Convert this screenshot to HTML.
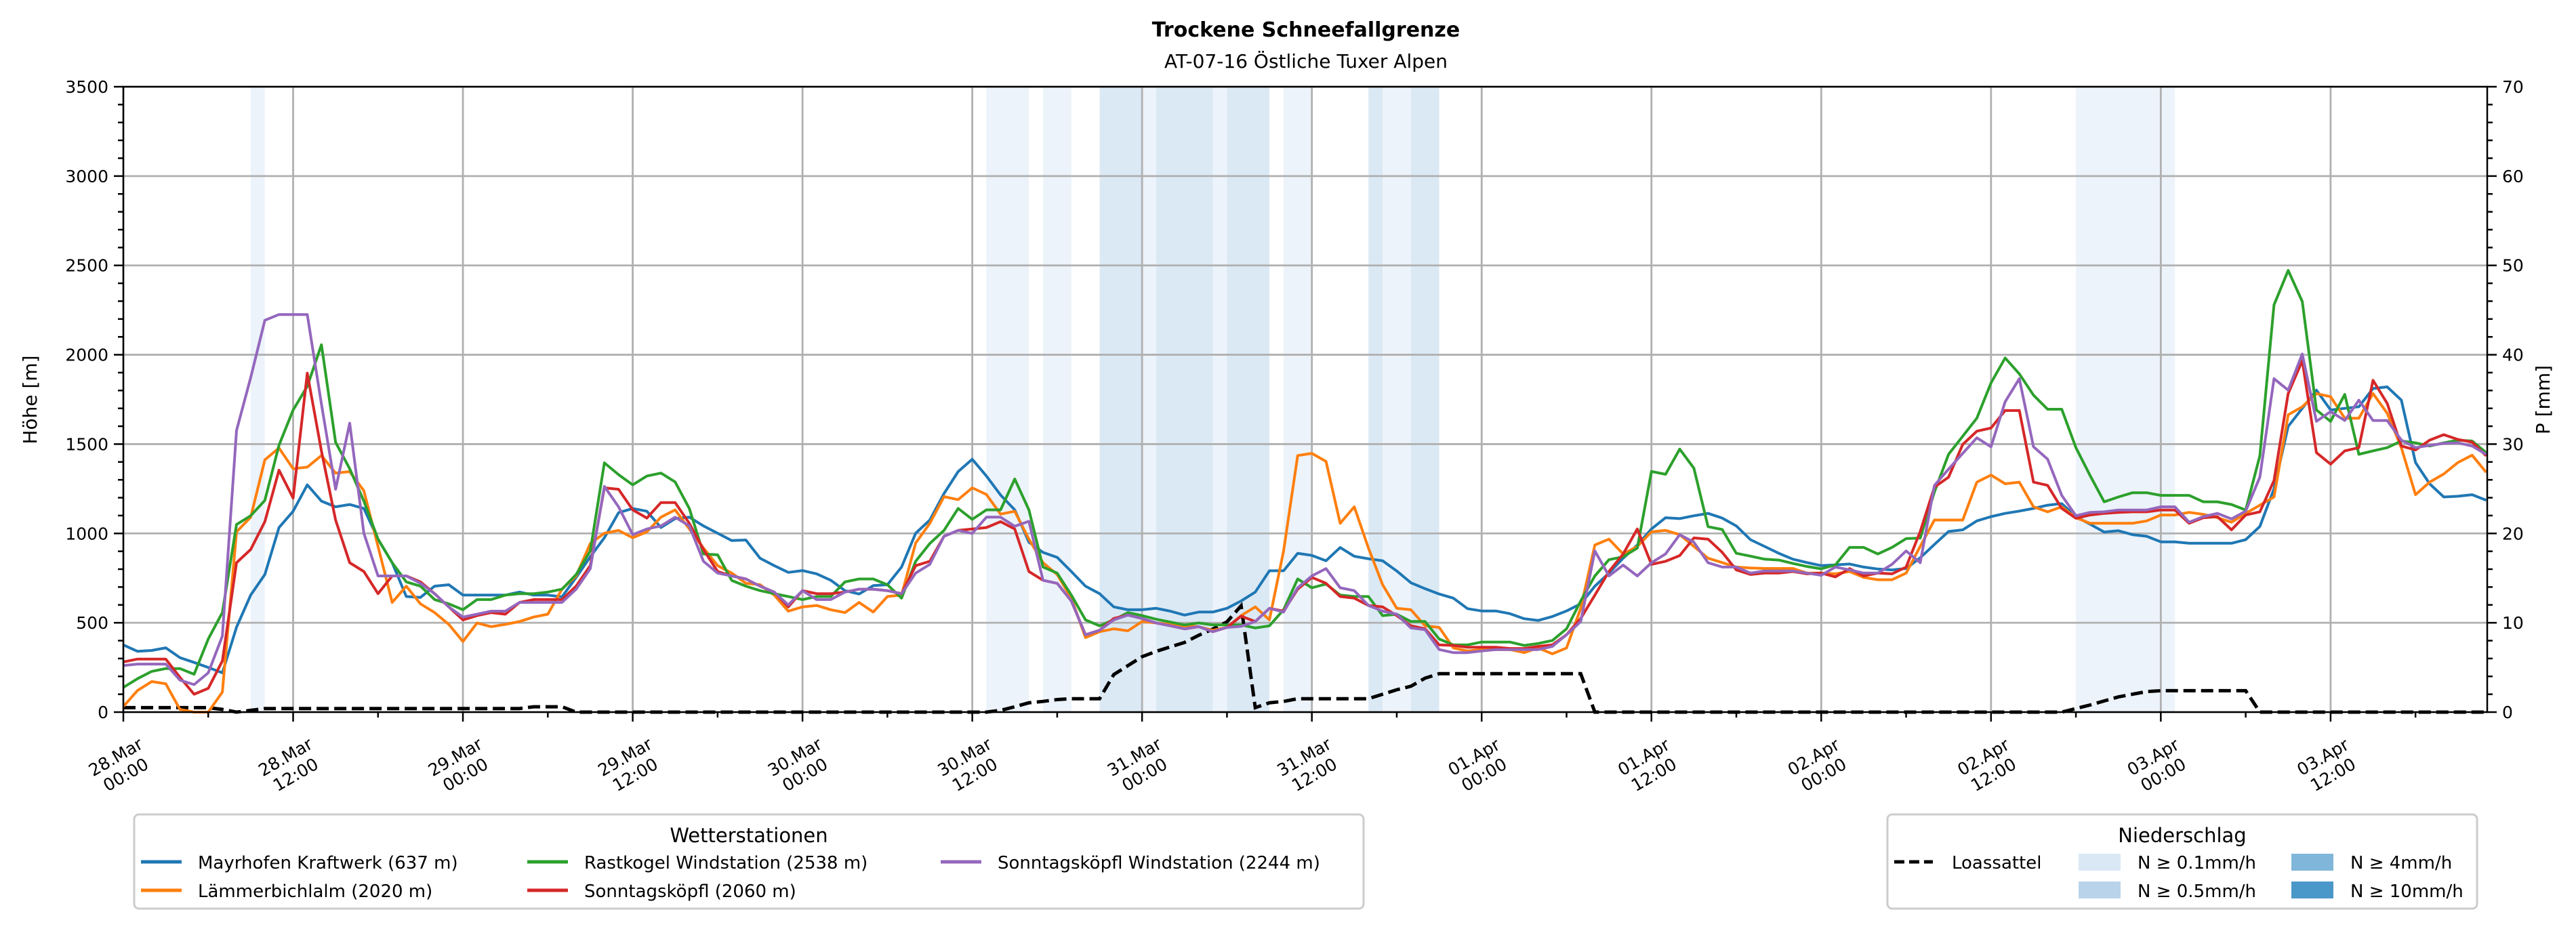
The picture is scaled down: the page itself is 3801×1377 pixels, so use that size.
<!DOCTYPE html>
<html><head><meta charset="utf-8"><style>
html,body{margin:0;padding:0;background:#fff}
svg{display:block;font-family:"DejaVu Sans","Liberation Sans",sans-serif}
</style></head><body>
<svg id="chart" width="3801" height="1377" viewBox="0 0 3801 1377" xmlns="http://www.w3.org/2000/svg">
<rect width="3801" height="1377" fill="#fff"/>
<text x="1927" y="54" font-size="30" font-weight="bold" text-anchor="middle">Trockene Schneefallgrenze</text>
<text x="1927" y="100" font-size="28" text-anchor="middle">AT-07-16 Östliche Tuxer Alpen</text>
<g id="bands"></g>
<g id="grid"></g>
<g id="series"></g>
<g id="axes"></g>
<text transform="translate(54,590) rotate(-90)" font-size="28" text-anchor="middle">Höhe [m]</text>
<text transform="translate(3762,590) rotate(-90)" font-size="28" text-anchor="middle">P [mm]</text>

<g>
<rect x="198" y="1202" width="1814" height="139" rx="7" fill="#fff" stroke="#cccccc" stroke-width="3"/>
<text x="1105" y="1243" font-size="29" text-anchor="middle">Wetterstationen</text>
<g><line x1="208" y1="1272" x2="268" y2="1272" stroke="#1f77b4" stroke-width="5"/><text x="292" y="1282" font-size="26">Mayrhofen Kraftwerk (637 m)</text></g>
<g><line x1="208" y1="1314" x2="268" y2="1314" stroke="#ff7f0e" stroke-width="5"/><text x="292" y="1324" font-size="26">Lämmerbichlalm (2020 m)</text></g>
<g><line x1="778" y1="1272" x2="838" y2="1272" stroke="#2ca02c" stroke-width="5"/><text x="862" y="1282" font-size="26">Rastkogel Windstation (2538 m)</text></g>
<g><line x1="778" y1="1314" x2="838" y2="1314" stroke="#d62728" stroke-width="5"/><text x="862" y="1324" font-size="26">Sonntagsköpfl (2060 m)</text></g>
<g><line x1="1388" y1="1272" x2="1448" y2="1272" stroke="#9467bd" stroke-width="5"/><text x="1472" y="1282" font-size="26">Sonntagsköpfl Windstation (2244 m)</text></g>
</g>

<g>
<rect x="2785" y="1202" width="870" height="139" rx="7" fill="#fff" stroke="#cccccc" stroke-width="3"/>
<text x="3220" y="1243" font-size="29" text-anchor="middle">Niederschlag</text>
<g><line x1="2795" y1="1272" x2="2852" y2="1272" stroke="#000" stroke-width="5" stroke-dasharray="15,7"/><text x="2880" y="1282" font-size="26">Loassattel</text></g>
<g><rect x="3067" y="1260" width="62" height="25" fill="#dae8f5"/><text x="3154" y="1282" font-size="26">N ≥ 0.1mm/h</text></g>
<g><rect x="3067" y="1301" width="62" height="25" fill="#b9d4ea"/><text x="3154" y="1324" font-size="26">N ≥ 0.5mm/h</text></g>
<g><rect x="3381" y="1260" width="62" height="25" fill="#7fb6d9"/><text x="3468" y="1282" font-size="26">N ≥ 4mm/h</text></g>
<g><rect x="3381" y="1301" width="62" height="25" fill="#4a97c9"/><text x="3468" y="1324" font-size="26">N ≥ 10mm/h</text></g>
</g>
</svg>
<script>
const mayrhofen=[376,340,345,360,305,278,250,220,475,655,770,1033,1124,1272,1181,1149,1162,1140,968,836,647,642,705,713,655,655,655,655,672,655,655,645,754,869,976,1116,1140,1124,1033,1083,1091,1042,1001,
960,963,861,820,782,792,774,738,680,661,708,713,812,1001,1075,1223,1346,1415,1321,1215,1132,951,894,866,787,705,663,589,573,573,581,565,543,560,560,581,622,672,791,791,889,877,
847,921,872,858,847,790,724,691,661,638,579,566,566,551,523,513,535,566,606,705,778,861,935,1025,1088,1083,1099,1112,1086,1042,965,927,889,856,837,820,824,829,812,801,796,804,
864,938,1011,1020,1070,1094,1112,1125,1140,1158,1167,1094,1052,1008,1015,993,984,953,953,945,945,945,945,965,1039,1250,1599,1700,1802,1691,1700,1709,1811,1820,1746,1397,1278,1204,1208,1217,1186];
const rastkogel=[138,187,228,244,244,212,409,557,1050,1099,1185,1494,1691,1823,2056,1510,1362,1181,968,836,729,705,630,606,573,630,630,655,663,663,672,688,770,902,1395,1329,1272,1321,1338,1288,1140,885,880,
737,705,680,663,647,630,647,647,729,745,745,713,638,844,944,1017,1140,1079,1132,1132,1305,1132,812,778,655,516,483,516,557,540,520,504,488,499,488,488,488,471,483,573,745,696,
717,655,647,647,540,548,507,507,409,376,376,392,392,392,373,384,401,466,622,762,853,869,918,1347,1331,1472,1365,1038,1022,889,873,856,851,832,815,802,824,922,922,885,922,971,
974,1232,1443,1544,1645,1842,1982,1893,1774,1695,1695,1480,1324,1177,1204,1228,1228,1213,1213,1213,1177,1177,1162,1131,1434,2279,2472,2298,1691,1627,1778,1443,1462,1480,1517,1507,1489,1507,1522,1517,1452];
const sonntag=[281,297,297,297,195,100,133,286,836,910,1066,1354,1198,1897,1461,1075,836,787,663,762,762,729,663,589,516,540,557,548,614,630,630,630,705,820,1255,1247,1132,1086,1173,1173,1057,910,787,
762,745,705,672,589,680,663,663,672,688,688,680,663,820,844,984,1017,1025,1033,1066,1025,787,738,721,622,433,458,524,543,524,499,483,466,478,450,474,537,507,581,565,688,754,
721,647,638,597,589,540,483,466,376,373,363,363,363,356,356,368,376,433,524,655,787,885,1025,827,844,876,975,968,894,796,770,778,778,787,774,778,757,803,762,778,774,812,
1011,1259,1315,1498,1572,1590,1688,1688,1287,1269,1140,1085,1103,1112,1118,1121,1121,1131,1131,1057,1088,1094,1020,1103,1121,1296,1783,1967,1452,1388,1462,1480,1857,1728,1489,1467,1522,1553,1526,1511,1434];
const sonntagWind=[261,269,269,269,179,154,220,425,1576,1872,2193,2225,2225,2225,1724,1247,1617,1001,762,762,762,721,663,589,532,548,565,565,614,614,614,614,688,803,1263,1149,993,1025,1042,1091,1042,844,778,
762,745,705,672,600,680,630,630,672,688,688,680,663,778,827,984,1017,1000,1091,1091,1040,1068,738,721,622,433,458,516,543,524,499,483,466,478,450,474,480,507,581,560,696,762,
803,696,680,597,565,548,471,461,350,333,333,342,350,350,350,350,368,433,507,902,762,823,762,836,885,993,951,836,812,812,778,790,790,790,778,766,812,796,778,778,827,902,
836,1268,1360,1448,1535,1485,1737,1866,1485,1416,1213,1099,1118,1121,1131,1131,1131,1149,1149,1063,1094,1112,1081,1125,1315,1866,1802,2004,1627,1682,1632,1746,1632,1632,1522,1480,1493,1504,1507,1489,1443];
const laemmer=[31,121,171,159,15,0,0,112,1009,1091,1412,1478,1362,1371,1436,1338,1346,1239,927,614,705,606,557,491,395,499,478,491,507,532,548,688,762,944,1001,1017,976,1009,1091,1132,1025,918,820,
778,721,713,655,565,589,597,573,557,614,560,647,655,946,1057,1206,1189,1255,1218,1108,1124,968,836,770,638,417,450,466,455,507,499,491,483,478,458,474,540,589,516,902,1436,1448,
1403,1057,1149,918,713,581,573,483,474,359,342,350,350,350,333,359,326,359,581,935,968,885,927,1009,1017,993,927,861,837,812,807,804,804,804,778,778,774,787,754,741,741,778,
928,1075,1075,1075,1287,1327,1278,1287,1149,1121,1149,1088,1057,1057,1057,1057,1070,1103,1103,1118,1107,1088,1063,1112,1158,1204,1664,1709,1783,1765,1645,1645,1783,1673,1480,1217,1287,1333,1397,1438,1342];
const loassattel=[0.5,0.5,0.5,0.5,0.5,0.5,0.5,0.3,0,0.2,
0.4,0.4,0.4,0.4,0.4,0.4,0.4,0.4,0.4,0.4,0.4,0.4,0.4,0.4,0.4,0.4,0.4,0.4,0.4,
0.6,0.6,0.6,
0,0,0,0,0,0,0,0,0,0,0,0,0,0,0,0,0,0,0,0,0,0,0,0,0,0,0,0,0,0,
0.2,0.6,1.05,1.2,1.4,1.5,1.5,1.5,
4.2,5.2,6.2,6.8,7.3,7.8,8.6,9.3,10.1,11.9,
0.5,1.05,1.2,1.5,1.5,1.5,1.5,1.5,1.5,2.0,2.5,2.9,3.8,
4.3,4.3,4.3,4.3,4.3,4.3,4.3,4.3,4.3,4.3,4.3,
0,0,0,0,0,0,0,0,0,0,0,0,0,0,0,0,0,0,0,0,0,0,0,0,0,0,0,0,0,0,0,0,0,0,
0.4,0.8,1.25,1.7,2.0,2.3,2.4,2.4,2.4,2.4,2.4,2.4,2.4,
0,0,0,0,0,0,0,0,0,0,0,0,0,0,0,0,0];
const bandStart=[9,61,65,69,72,73,77,78,82,88,89,91,138];
const bandEnd=[10,64,67,72,73,77,78,81,84,89,91,93,145];
const bandLevel=[0.1,0.1,0.1,0.5,0.1,0.5,0.1,0.5,0.1,0.5,0.1,0.5,0.1];
const yTicks=[0,500,1000,1500,2000,2500,3000,3500];
const y2Ticks=[0,10,20,30,40,50,60,70];
const xTickHours=[0,12,24,36,48,60,72,84,96,108,120,132,144,156];
const xTickLabels=[["28.Mar","00:00"],["28.Mar","12:00"],["29.Mar","00:00"],["29.Mar","12:00"],["30.Mar","00:00"],["30.Mar","12:00"],["31.Mar","00:00"],["31.Mar","12:00"],["01.Apr","00:00"],["01.Apr","12:00"],["02.Apr","00:00"],["02.Apr","12:00"],["03.Apr","00:00"],["03.Apr","12:00"]];

const L=182,R=3670,T=128,B=1051,HMAX=167.07,YMAX=3500,PMAX=70;
const NS="http://www.w3.org/2000/svg";
function X(h){return L+(R-L)*h/HMAX;}
function Y(v){return B-(B-T)*v/YMAX;}
function Y2(p){return B-(B-T)*p/PMAX;}
function mk(tag,attrs,parent){const e=document.createElementNS(NS,tag);for(const k in attrs)e.setAttribute(k,attrs[k]);parent.appendChild(e);return e;}

const gB=document.getElementById('bands');
bandStart.forEach((s,i)=>{
  const r=mk('rect',{x:X(s),y:T,width:X(bandEnd[i])-X(s),height:B-T,fill:bandLevel[i]>=0.5?'#dbe9f5':'#ecf3fa'},gB);
  
  
});

const gG=document.getElementById('grid');
yTicks.forEach(v=>{const l=mk('line',{x1:L,x2:R,y1:Y(v),y2:Y(v),stroke:'#b0b0b0','stroke-width':2.8},gG);
  
  });
xTickHours.forEach(h=>{const l=mk('line',{x1:X(h),x2:X(h),y1:T,y2:B,stroke:'#b0b0b0','stroke-width':2.8},gG);
  
  });

const gS=document.getElementById('series');
function drawLine(arr,color,name){
  const pts=arr.map((v,i)=>X(i).toFixed(1)+','+Y(v).toFixed(1)).join(' ');
  const p=mk('polyline',{points:pts,fill:'none',stroke:color,'stroke-width':4,'stroke-linejoin':'round'},gS);
  
  
}
const pl=loassattel.map((v,i)=>X(i).toFixed(1)+','+Y2(v).toFixed(1)).join(' ');
const lo=mk('polyline',{points:pl,fill:'none',stroke:'#000','stroke-width':5,'stroke-dasharray':'18,8'},gS);


drawLine(mayrhofen,'#1f77b4','mayrhofen-line');
drawLine(laemmer,'#ff7f0e','laemmerbichlalm-line');
drawLine(rastkogel,'#2ca02c','rastkogel-line');
drawLine(sonntag,'#d62728','sonntagskoepfl-line');
drawLine(sonntagWind,'#9467bd','sonntagskoepfl-wind-line');

const gA=document.getElementById('axes');
mk('rect',{x:L,y:T,width:R-L,height:B-T,fill:'none',stroke:'#000','stroke-width':2.5},gA);
for(let v=0;v<=YMAX;v+=100){const maj=v%500===0;mk('line',{x1:L,x2:L-(maj?14:8),y1:Y(v),y2:Y(v),stroke:'#000','stroke-width':2.5},gA);}
yTicks.forEach(v=>{const t=mk('text',{x:L-22,y:Y(v)+9,'font-size':25,'text-anchor':'end'},gA);t.textContent=v;
  
  });
for(let p=0;p<=PMAX;p+=2){const maj=p%10===0;mk('line',{x1:R,x2:R+(maj?14:8),y1:Y2(p),y2:Y2(p),stroke:'#000','stroke-width':2.5},gA);}
y2Ticks.forEach(p=>{const t=mk('text',{x:R+22,y:Y2(p)+9,'font-size':25},gA);t.textContent=p;
  
  });
for(let h=0;h<=HMAX;h+=6){const maj=h%12===0;mk('line',{x1:X(h),x2:X(h),y1:B,y2:B+(maj?14:8),stroke:'#000','stroke-width':2.5},gA);}
xTickHours.forEach((h,i)=>{
  const cx=X(h)-4,cy=1130;
  const t=mk('text',{x:cx,y:cy-6,'font-size':25,'text-anchor':'middle',transform:`rotate(-30 ${cx} ${cy})`},gA);
  
  
  const a=mk('tspan',{x:cx,dy:0},t);a.textContent=xTickLabels[i][0];
  const b=mk('tspan',{x:cx,dy:30},t);b.textContent=xTickLabels[i][1];
});
</script>
</body></html>
